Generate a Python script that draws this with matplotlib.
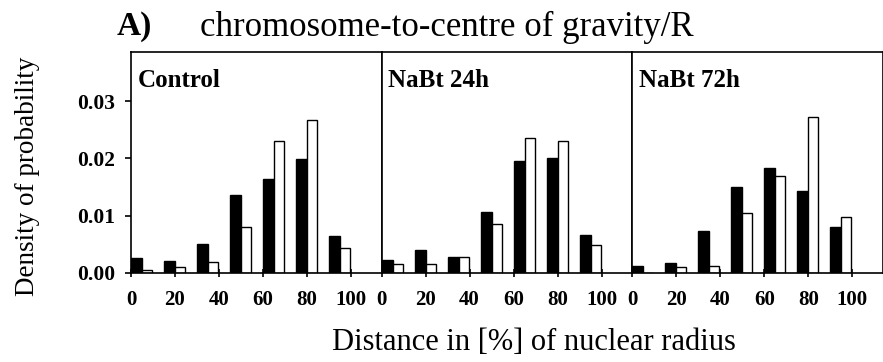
import numpy as np
import matplotlib.pyplot as plt

plt.rcParams['font.family'] = ['Liberation Serif', 'DejaVu Serif']

panels = ["Control", "NaBt 24h", "NaBt 72h"]
groups = np.arange(7)
black_vals = [
    [0.0026, 0.0021, 0.0051, 0.0137, 0.0164, 0.0199, 0.0064],
    [0.0022, 0.0041, 0.0028, 0.0106, 0.0196, 0.0201, 0.0066],
    [0.0013, 0.0018, 0.0073, 0.0150, 0.0184, 0.0143, 0.0080],
]
white_vals = [
    [0.0005, 0.0010, 0.0020, 0.0080, 0.0230, 0.0267, 0.0043],
    [0.0016, 0.0015, 0.0028, 0.0086, 0.0236, 0.0230, 0.0049],
    [0.0000, 0.0010, 0.0013, 0.0104, 0.0169, 0.0272, 0.0098],
]
xticks = [0, 20, 40, 60, 80, 100]
yticks = [0.00, 0.01, 0.02, 0.03]

fig = plt.figure(figsize=(8.83, 3.62), dpi=100)
left, right = 131 / 883, 1.0
bottom, top = 1 - 273 / 362, 1 - 52 / 362
w = (right - left) / 3

for i, name in enumerate(panels):
    ax = fig.add_axes([left + i * w, bottom, w, top - bottom])
    pos = groups * 15
    ax.bar(pos, black_vals[i], width=5, align='edge', color='black',
           edgecolor='black', linewidth=1)
    ax.bar(pos + 5, white_vals[i], width=4.6, align='edge', color='white',
           edgecolor='black', linewidth=1)
    ax.set_xlim(0, 114)
    ax.set_ylim(0, 0.0386)
    ax.set_xticks(xticks)
    ax.set_xticklabels([str(t) for t in xticks], fontweight='bold', fontsize=15)
    ax.tick_params(axis='x', direction='inout', length=6, width=1.2, pad=9)
    for s in ax.spines.values():
        s.set_linewidth(1.2)
    if i == 0:
        ax.set_yticks(yticks)
        ax.set_yticklabels(["%.2f" % t for t in yticks], fontweight='bold', fontsize=15.5)
        ax.tick_params(axis='y', direction='out', length=4, width=1.2, pad=7.5)
    else:
        ax.set_yticks([])
    ax.text(0.025, 0.925, name, transform=ax.transAxes, ha='left', va='top',
            fontsize=18, fontweight='bold')

fig.text(117 / 883, 1 - 27 / 362, "A)", fontsize=24, fontweight='bold', va='center', ha='left')
fig.text(200 / 883, 1 - 27 / 362, "chromosome-to-centre of gravity/R", fontsize=25,
         va='center', ha='left')
fig.text(28 / 883, 1 - 176 / 362, "Density of probability", fontsize=19.5,
         rotation=90, va='center', ha='center')
fig.text(534 / 883, 1 - 343 / 362, "Distance in [%] of nuclear radius", fontsize=22,
         va='center', ha='center')

fig.savefig("out.png", dpi=100)
